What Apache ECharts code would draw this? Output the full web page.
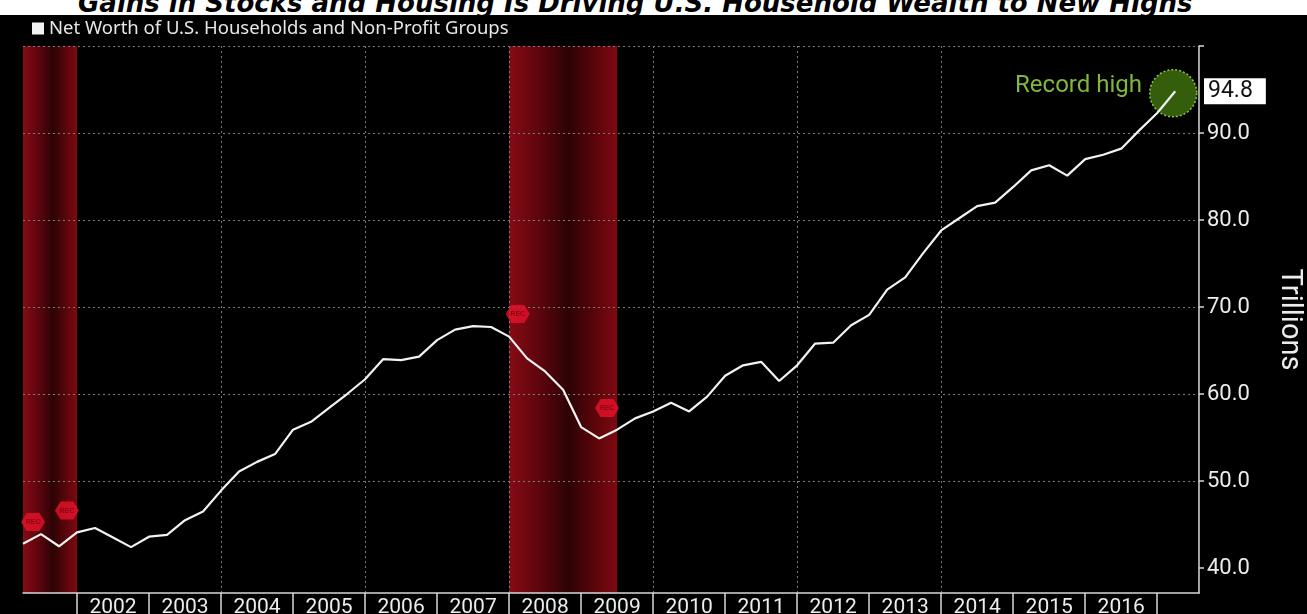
<!DOCTYPE html>
<html>
<head>
<meta charset="utf-8">
<script src="https://cdn.jsdelivr.net/npm/echarts@6/dist/echarts.min.js"></script>
<style>
  html, body { margin: 0; padding: 0; background: #fff; }
  #wrap { position: relative; width: 1307px; height: 614px; overflow: hidden; background: #fff; }
  #title {
    position: absolute; left: 78px; top: -10px; line-height: 26px;
    font-family: "DejaVu Sans", sans-serif; font-weight: bold; font-style: italic;
    font-size: 26px; color: #000; white-space: nowrap;
  }
  #chart { position: absolute; left: 0; top: 15px; width: 1307px; height: 599px; background: #000; }
</style>
</head>
<body>
<div id="wrap">
  <div id="title">Gains in Stocks and Housing Is Driving U.S. Household Wealth to New Highs</div>
  <div id="chart"></div>
</div>
<script>
// quarterly net worth, trillions of dollars, 2001Q1 .. 2017Q1
var firstQuarter = 2001.25;   // end of Q1 2001, as decimal year
var netWorth = [
  42.8, 43.9, 42.5, 44.1,
  44.6, 43.5, 42.4, 43.6,
  43.8, 45.5, 46.5, 48.9,
  51.1, 52.2, 53.1, 55.9,
  56.8, 58.4, 60.0, 61.7,
  64.0, 63.9, 64.3, 66.2,
  67.4, 67.8, 67.7, 66.6,
  64.1, 62.6, 60.5, 56.2,
  54.9, 55.9, 57.2, 58.0,
  59.0, 58.0, 59.7, 62.1,
  63.3, 63.7, 61.5, 63.3,
  65.8, 65.9, 67.9, 69.1,
  72.0, 73.4, 76.2, 78.8,
  80.2, 81.6, 82.0, 83.8,
  85.7, 86.3, 85.1, 87.0,
  87.5, 88.2, 90.3, 92.3,
  94.8
];

// recession periods (decimal years) and the REC tags drawn on them
var recessions = [[2001.25, 2002.0], [2008.0, 2009.5]];
var recTags = [[2001.39, 45.3], [2001.86, 46.6], [2008.12, 69.2], [2009.36, 58.4]];

var yearTicks = [2002, 2003, 2004, 2005, 2006, 2007, 2008, 2009, 2010, 2011, 2012, 2013, 2014, 2015, 2016, 2017];
var yearLabels = [2002, 2003, 2004, 2005, 2006, 2007, 2008, 2009, 2010, 2011, 2012, 2013, 2014, 2015, 2016];
var yearGrid = [2002, 2004, 2006, 2008, 2010, 2012, 2014, 2016];
var valueTicks = [40, 50, 60, 70, 80, 90, 100];
var valueLabels = [40, 50, 60, 70, 80, 90];

var seriesName = 'Net Worth of U.S. Households and Non-Profit Groups';

var lineData = netWorth.map(function (v, i) { return [firstQuarter + i * 0.25, v]; });

var chart = echarts.init(document.getElementById('chart'));

// semi-transparent so the dotted grid shows through the shading
var bandGradient = {
  type: 'linear', x: 0, y: 0, x2: 1, y2: 0,
  colorStops: [
    { offset: 0, color: 'rgba(186,15,29,0.72)' },
    { offset: 0.3, color: 'rgba(125,7,17,0.72)' },
    { offset: 0.55, color: 'rgba(61,3,7,0.72)' },
    { offset: 0.78, color: 'rgba(122,7,12,0.72)' },
    { offset: 1, color: 'rgba(175,12,25,0.72)' }
  ]
};

var gridLine = { color: '#7a7a7a', type: [2, 3], width: 1 };

var option = {
  backgroundColor: '#000',
  animation: false,
  legend: {
    data: [seriesName],
    left: 27,
    top: -1,
    icon: 'rect',
    itemWidth: 12,
    itemHeight: 12,
    itemGap: 4,
    textStyle: { color: '#e6e6e6', fontSize: 18.5, fontFamily: 'Noto Sans' }
  },
  grid: { left: 23, right: 108, top: 31, bottom: 21, outerBoundsMode: 'none' },
  xAxis: [{
    type: 'value',
    min: 2001.25,
    max: 2017.58,
    splitNumber: 16,
    z: 5,
    axisLine: { lineStyle: { color: '#d8d8d8', width: 1.5 } },
    axisTick: { customValues: yearTicks, length: 22, lineStyle: { color: '#d8d8d8', width: 1.5 } },
    axisLabel: {
      customValues: yearLabels.map(function (y) { return y + 0.5; }),
      formatter: function (v) { return String(Math.floor(v)); },
      color: '#ececec', fontSize: 21, fontFamily: 'Roboto', margin: 4
    },
    splitLine: { show: false }
  }, {
    type: 'value',
    min: 2001.25,
    max: 2017.58,
    splitNumber: 8,
    z: 5,
    axisLine: { show: false },
    axisTick: { show: false, customValues: yearGrid },
    axisLabel: { show: false },
    splitLine: { show: true, showMinLine: false, showMaxLine: false, lineStyle: gridLine }
  }],
  yAxis: {
    type: 'value',
    position: 'right',
    min: 37.13,
    max: 100,
    splitNumber: 6,
    z: 5,
    name: 'Trillions',
    nameLocation: 'middle',
    nameRotate: -90,
    nameGap: 76,
    nameTextStyle: { color: '#ececec', fontSize: 29, fontFamily: 'Roboto' },
    axisLine: { show: true, lineStyle: { color: '#d8d8d8', width: 1.5 } },
    axisTick: { show: true, customValues: valueTicks, length: 5, lineStyle: { color: '#d8d8d8', width: 1.5 } },
    axisLabel: {
      customValues: valueLabels,
      formatter: function (v) { return v.toFixed(1); },
      color: '#ececec', fontSize: 22, fontFamily: 'Roboto', margin: 8
    },
    splitLine: { show: true, showMinLine: false, lineStyle: gridLine },
    axisPointer: {
      show: true,
      type: 'line',
      value: netWorth[netWorth.length - 1],
      status: 'show',
      triggerTooltip: false,
      lineStyle: { opacity: 0 },
      label: {
        show: true,
        formatter: function (p) { return Number(p.value).toFixed(1); },
        backgroundColor: '#fff',
        color: '#111',
        fontSize: 23,
        fontFamily: 'Roboto',
        padding: [2, 13, 1, 4],
        margin: 5,
        borderRadius: 0,
        shadowBlur: 0
      }
    }
  },
  series: [{
    name: 'Recession',
    type: 'line',
    xAxisIndex: 0,
    data: [],
    z: 0,
    markArea: {
      silent: true,
      z: 0,
      itemStyle: { color: bandGradient },
      data: recessions.map(function (r) { return [{ xAxis: r[0] }, { xAxis: r[1] }]; })
    }
  }, {
    name: seriesName,
    type: 'line',
    xAxisIndex: 0,
    data: lineData,
    symbol: 'none',
    z: 6,
    lineStyle: { color: '#f2f2f2', width: 2.2 },
    itemStyle: { color: '#f2f2f2' },
    markPoint: {
      silent: true,
      z: 5.5,
      symbol: 'circle',
      symbolSize: 47,
      symbolOffset: [-2, 2],
      itemStyle: {
        color: '#345e0b',
        borderColor: '#8fc44a',
        borderWidth: 1.5,
        borderType: [2, 2]
      },
      label: {
        show: true,
        position: 'left',
        distance: 7,
        offset: [0, -7],
        formatter: 'Record high',
        color: '#7fb83a',
        fontSize: 24,
        fontFamily: 'Roboto'
      },
      data: [{ type: 'max' }]
    }
  }, {
    name: 'REC',
    type: 'scatter',
    xAxisIndex: 0,
    data: recTags,
    z: 7,
    symbol: 'path://M0,7 L6,0 L20,0 L26,7 L20,14 L6,14 Z',
    symbolSize: [24, 18],
    itemStyle: { color: '#e8122c' },
    label: {
      show: true,
      formatter: 'REC',
      color: '#7a0010',
      fontSize: 7,
      fontWeight: 'bold'
    }
  }]
};

chart.setOption(option);
</script>
</body>
</html>
